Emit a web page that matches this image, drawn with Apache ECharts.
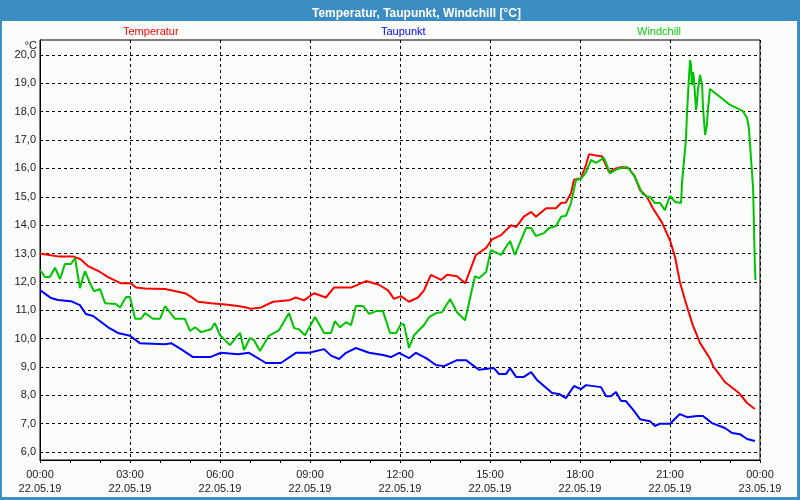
<!DOCTYPE html>
<html>
<head>
<meta charset="utf-8">
<script src="https://cdn.jsdelivr.net/npm/echarts@6/dist/echarts.min.js"></script>
<style>html,body{margin:0;padding:0;background:#fbfdfb;}#c{width:800px;height:500px;}</style>
</head>
<body>
<div id="c"></div>
<script>
var titleText = 'Temperatur, Taupunkt, Windchill [°C]';
var seriesNames = ['Temperatur', 'Taupunkt', 'Windchill'];
var yTickValues = [6,7,8,9,10,11,12,13,14,15,16,17,18,19,20];
var xTickHours = [0,3,6,9,12,15,18,21,24];
var xTickTimes = ['00:00','03:00','06:00','09:00','12:00','15:00','18:00','21:00','00:00'];
var xTickDates = ['22.05.19','22.05.19','22.05.19','22.05.19','22.05.19','22.05.19','22.05.19','22.05.19','23.05.19'];

var tempHours = [0,0.3,0.6,1.1,1.35,1.6,2.0,2.27,2.7,3.03,3.2,3.5,4.17,4.83,5.0,5.27,5.7,6.17,6.6,6.87,7.03,7.37,7.77,8.3,8.53,8.8,9.13,9.53,9.8,10.37,10.87,11.3,11.6,11.8,12.03,12.3,12.6,12.8,13.03,13.37,13.57,13.9,14.17,14.37,14.53,14.87,15.07,15.37,15.7,15.87,16.13,16.37,16.53,16.87,17.2,17.37,17.53,17.7,17.8,18.03,18.2,18.3,18.47,18.73,18.97,19.2,19.4,19.63,19.83,20.0,20.23,20.43,20.73,21.0,21.17,21.33,21.5,21.75,22.0,22.33,22.45,22.6,22.83,23.3,23.57,23.83];
var tempValues = [13.0,12.95,12.9,12.9,12.8,12.56,12.35,12.17,11.95,11.95,11.8,11.77,11.75,11.6,11.5,11.3,11.25,11.2,11.15,11.1,11.05,11.1,11.3,11.35,11.45,11.35,11.6,11.45,11.8,11.8,12.03,11.9,11.7,11.4,11.5,11.3,11.45,11.7,12.25,12.07,12.25,12.2,11.95,12.5,12.95,13.2,13.5,13.65,14.0,13.93,14.3,14.47,14.3,14.6,14.6,14.78,14.8,15.13,15.6,15.65,16.12,16.5,16.47,16.43,15.87,16.0,16.05,16.0,15.7,15.24,15.0,14.6,14.1,13.47,12.87,12.0,11.36,10.5,9.85,9.3,9.0,8.8,8.47,8.08,7.73,7.52];

var dewHours = [0,0.37,0.6,1.03,1.33,1.53,1.77,2.27,2.6,3.0,3.33,4.17,4.37,4.7,5.1,5.67,6.03,6.6,6.97,7.53,8.03,8.53,8.97,9.47,9.7,9.97,10.2,10.53,10.97,11.43,11.7,11.97,12.3,12.53,12.87,13.2,13.47,13.9,14.2,14.63,15.13,15.3,15.53,15.67,15.87,16.13,16.37,16.57,17.07,17.3,17.53,17.8,18.03,18.2,18.7,18.87,19.03,19.2,19.37,19.53,19.8,20.0,20.33,20.5,20.67,21.0,21.33,21.57,21.9,22.1,22.4,22.83,23.07,23.33,23.57,23.83];
var dewValues = [11.71,11.43,11.36,11.32,11.18,10.87,10.8,10.4,10.2,10.1,9.84,9.8,9.84,9.63,9.35,9.35,9.5,9.45,9.5,9.14,9.14,9.5,9.5,9.63,9.4,9.28,9.5,9.67,9.5,9.42,9.35,9.5,9.31,9.5,9.31,9.07,9.03,9.24,9.24,8.9,8.96,8.75,8.75,8.96,8.65,8.65,8.82,8.54,8.08,8.05,7.9,8.33,8.22,8.36,8.29,7.97,7.97,8.12,7.8,7.8,7.45,7.16,7.09,6.92,7.0,7.0,7.34,7.23,7.27,7.27,7.02,6.85,6.67,6.63,6.46,6.39];

var windHours = [0,0.17,0.33,0.5,0.67,0.83,1.03,1.17,1.33,1.5,1.67,1.8,2.0,2.17,2.53,2.67,2.87,3.0,3.17,3.37,3.5,3.77,4.0,4.17,4.5,4.83,5.0,5.17,5.37,5.7,5.83,6.0,6.33,6.6,6.67,6.8,7.0,7.13,7.33,7.63,7.97,8.3,8.47,8.63,8.83,9.17,9.47,9.7,9.83,10.0,10.2,10.37,10.53,10.77,10.97,11.2,11.43,11.67,11.87,12.03,12.13,12.3,12.47,12.8,12.97,13.2,13.4,13.67,13.9,14.17,14.37,14.5,14.63,14.87,15.03,15.37,15.53,15.67,15.83,16.2,16.37,16.53,16.8,16.97,17.2,17.37,17.53,17.7,17.87,18.03,18.2,18.37,18.53,18.8,19.0,19.23,19.57,19.8,20.07,20.23,20.33,20.5,20.67,20.83,21.0,21.17,21.37,21.4,21.47,21.53,21.57,21.63,21.67,21.7,21.73,21.77,21.8,21.87,21.9,21.93,22.0,22.07,22.1,22.17,22.23,22.27,22.33,22.67,23.0,23.23,23.43,23.57,23.63,23.7,23.77,23.8,23.83,23.85];
var windValues = [12.42,12.17,12.17,12.5,12.1,12.63,12.63,12.84,11.78,12.38,11.95,11.67,11.75,11.25,11.22,11.1,11.47,11.47,10.7,10.7,10.9,10.7,10.7,11.15,10.7,10.7,10.27,10.4,10.23,10.33,10.55,10.12,9.77,10.12,10.2,9.6,10.02,9.95,9.56,10.1,10.3,10.9,10.37,10.33,10.12,10.76,10.2,10.2,10.62,10.4,10.58,10.48,11.15,11.15,10.87,10.97,10.97,10.2,10.2,10.51,10.51,9.67,10.12,10.48,10.76,10.9,10.93,11.4,10.93,10.65,11.6,12.2,12.13,12.35,13.12,12.95,13.23,13.44,12.95,13.9,13.9,13.62,13.72,13.9,13.97,14.3,14.33,14.78,15.6,15.63,15.87,16.3,16.2,16.37,15.83,15.98,16.05,15.77,15.13,15.0,15.0,14.78,14.78,14.53,15.03,14.82,14.78,15.5,16.3,17.0,17.99,19.19,19.82,19.65,18.94,19.4,19.12,18.06,18.34,18.76,19.3,18.94,18.16,17.18,17.53,18.13,18.8,18.52,18.24,18.13,18.02,17.78,17.42,16.37,15.3,13.93,12.52,12.06];

function zip(a, b) { return a.map(function (v, i) { return [v, b[i]]; }); }

var FONT = 'Liberation Sans';
var colors = ['#ff0000', '#0000ff', '#00c400'];
var legendColors = ['#ff0000', '#0000ff', '#10cc10'];
var legendLeft = [113, 371, 627];

var chart = echarts.init(document.getElementById('c'), null, {renderer: 'canvas'});
var legends = seriesNames.map(function (n, i) {
  return {
    data: [n], left: legendLeft[i], top: 21, icon: 'rect', itemWidth: 0, itemHeight: 12, itemGap: 0,
    selectedMode: false,
    textStyle: {color: legendColors[i], fontFamily: FONT, fontSize: 11}
  };
});
chart.setOption({
  animation: false,
  backgroundColor: '#fbfdfb',
  title: {text: titleText, left: 307, top: 3, textStyle: {color: '#ffffff', fontFamily: FONT, fontSize: 12, fontWeight: 'bold'}},
  legend: legends,
  graphic: [
    {type: 'rect', shape: {x: 0, y: 0, width: 800, height: 21}, style: {fill: '#3c8dc4'}, z: 0},
    {type: 'rect', shape: {x: 0, y: 0, width: 2, height: 500}, style: {fill: '#3c8dc4'}, z: 0},
    {type: 'rect', shape: {x: 797, y: 0, width: 3, height: 500}, style: {fill: '#3c8dc4'}, z: 0},
    {type: 'rect', shape: {x: 0, y: 497, width: 800, height: 3}, style: {fill: '#3c8dc4'}, z: 0},
    {type: 'text', x: 37, y: 46, style: {text: '°C', fill: '#1a1a1a', font: '11px "Liberation Sans"', textAlign: 'right', textVerticalAlign: 'middle'}}
  ],
  grid: {left: 40, right: 40, top: 40, bottom: 40, show: true, borderColor: '#000', borderWidth: 1, backgroundColor: 'transparent'},
  xAxis: {
    type: 'value', min: 0, max: 24, interval: 3,
    axisLine: {lineStyle: {color: '#000', width: 1}},
    axisTick: {show: true, length: 3, lineStyle: {color: '#000'}},
    minorTick: {show: true, splitNumber: 3, length: 3, lineStyle: {color: '#000'}},
    splitLine: {show: true, lineStyle: {color: '#000', type: [3, 3], width: 1}},
    axisLabel: {
      margin: 8, color: '#1a1a1a', fontFamily: FONT, fontSize: 11, lineHeight: 14,
      formatter: function (v) { var i = xTickHours.indexOf(v); return i < 0 ? '' : xTickTimes[i] + '\n' + xTickDates[i]; }
    }
  },
  yAxis: {
    type: 'value', min: 5.72, max: 20.53,
    axisLine: {show: true, lineStyle: {color: '#000', width: 1}},
    axisTick: {show: false, customValues: yTickValues},
    splitLine: {show: true, lineStyle: {color: '#000', type: [3, 3], width: 1}},
    axisLabel: {
      customValues: yTickValues, margin: 4, color: '#1a1a1a', fontFamily: FONT, fontSize: 11,
      formatter: function (v) { return v.toFixed(1).replace('.', ','); }
    }
  },
  series: [
    {name: seriesNames[0], type: 'line', data: zip(tempHours, tempValues), showSymbol: false, lineStyle: {width: 2, color: colors[0]}, itemStyle: {color: colors[0]}, z: 3},
    {name: seriesNames[1], type: 'line', data: zip(dewHours, dewValues), showSymbol: false, lineStyle: {width: 2, color: colors[1]}, itemStyle: {color: colors[1]}, z: 3},
    {name: seriesNames[2], type: 'line', data: zip(windHours, windValues), showSymbol: false, lineStyle: {width: 2, color: colors[2]}, itemStyle: {color: colors[2]}, z: 4}
  ]
});
</script>
</body>
</html>
